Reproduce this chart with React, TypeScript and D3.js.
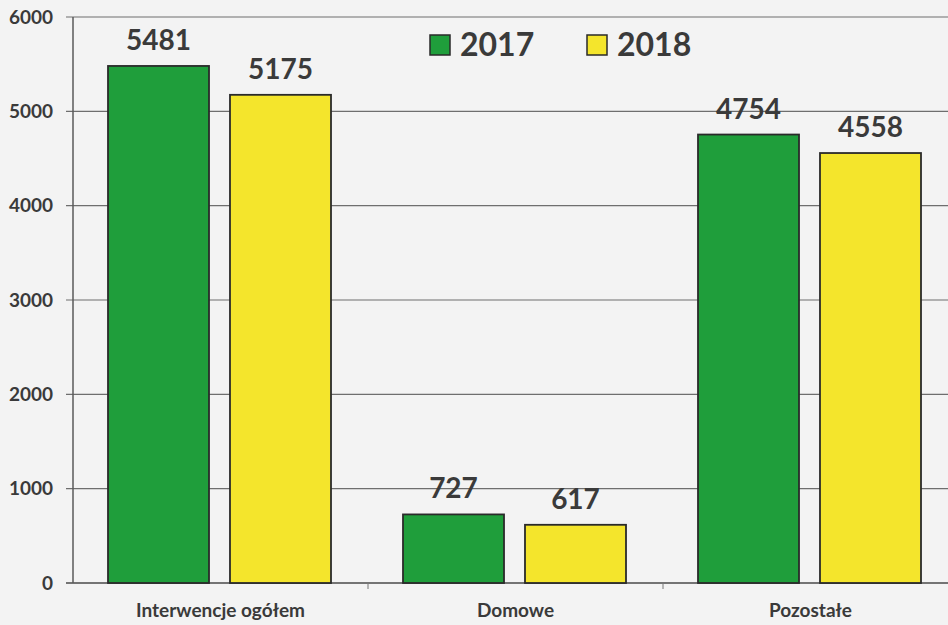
import React from "react";
import * as d3 from "d3";

const categories = ["Interwencje ogółem", "Domowe", "Pozostałe"];
const seriesNames = ["2017", "2018"];
const values2017 = [5481, 727, 4754];
const values2018 = [5175, 617, 4558];
const yTicks = [0, 1000, 2000, 3000, 4000, 5000, 6000];

const colors = ["#1f9e3b", "#f4e52c"];
const W = 948;
const H = 625;
const margin = { left: 73, right: -10, top: 17, bottom: 42 };
const font = "Lato, 'Open Sans', sans-serif";
const textColor = "#3a3a3a";

export default function App() {
  const x = d3
    .scaleBand<string>()
    .domain(categories)
    .range([margin.left, W - margin.right])
    .paddingInner(0)
    .paddingOuter(0);
  const inner = d3
    .scaleBand<string>()
    .domain(seriesNames)
    .range([35, 35 + 223])
    .paddingInner(0.172)
    .paddingOuter(0);
  const y = d3.scaleLinear().domain([0, 6000]).range([H - margin.bottom, margin.top]);
  const series = [values2017, values2018];

  return (
    <svg
      width={W}
      height={H}
      style={{ position: "absolute", left: 0, top: 0, background: "#f3f3f3" }}
    >
      <rect x={0} y={0} width={W} height={H} fill="#f3f3f3" />
      {yTicks.map((t) => (
        <g key={t}>
          <line
            x1={margin.left - 7}
            x2={W}
            y1={y(t)}
            y2={y(t)}
            stroke={t === 0 ? "#4a4a4a" : "#6e6e6e"}
            strokeWidth={t === 0 ? 1.6 : 1.2}
          />
          <text
            x={53}
            y={y(t)}
            dy="0.35em"
            textAnchor="end"
            fontFamily={font}
            fontWeight={700}
            fontSize={19}
            fill={textColor}
          >
            {t}
          </text>
        </g>
      ))}
      <line
        x1={margin.left}
        x2={margin.left}
        y1={y(6000)}
        y2={y(0)}
        stroke="#5a5a5a"
        strokeWidth={1.5}
      />
      {categories.slice(1).map((c) => (
        <line
          key={c}
          x1={x(c)!}
          x2={x(c)!}
          y1={y(0)}
          y2={y(0) + 6}
          stroke="#777"
          strokeWidth={1}
        />
      ))}
      {categories.map((c, i) =>
        seriesNames.map((s, j) => {
          const v = series[j][i];
          const bx = x(c)! + inner(s)!;
          return (
            <g key={c + s}>
              <rect
                x={bx}
                y={y(v)}
                width={inner.bandwidth()}
                height={y(0) - y(v)}
                fill={colors[j]}
                stroke="#2a2a2a"
                strokeWidth={1.8}
              />
              <text
                x={bx + inner.bandwidth() / 2}
                y={y(v) - 16}
                textAnchor="middle"
                fontFamily={font}
                fontWeight={700}
                fontSize={28}
                fill={textColor}
              >
                {v}
              </text>
            </g>
          );
        })
      )}
      {categories.map((c) => (
        <text
          key={c}
          x={x(c)! + x.bandwidth() / 2}
          y={617}
          textAnchor="middle"
          fontFamily={font}
          fontWeight={700}
          fontSize={19}
          fill={textColor}
        >
          {c}
        </text>
      ))}
      {seriesNames.map((s, j) => {
        const lx = 430 + j * 157;
        return (
          <g key={s}>
            <rect
              x={lx}
              y={35}
              width={20}
              height={20}
              fill={colors[j]}
              stroke="#2a2a2a"
              strokeWidth={1.5}
            />
            <text
              x={lx + 30}
              y={56}
              fontFamily={font}
              fontWeight={700}
              fontSize={32}
              fill={textColor}
            >
              {s}
            </text>
          </g>
        );
      })}
    </svg>
  );
}
